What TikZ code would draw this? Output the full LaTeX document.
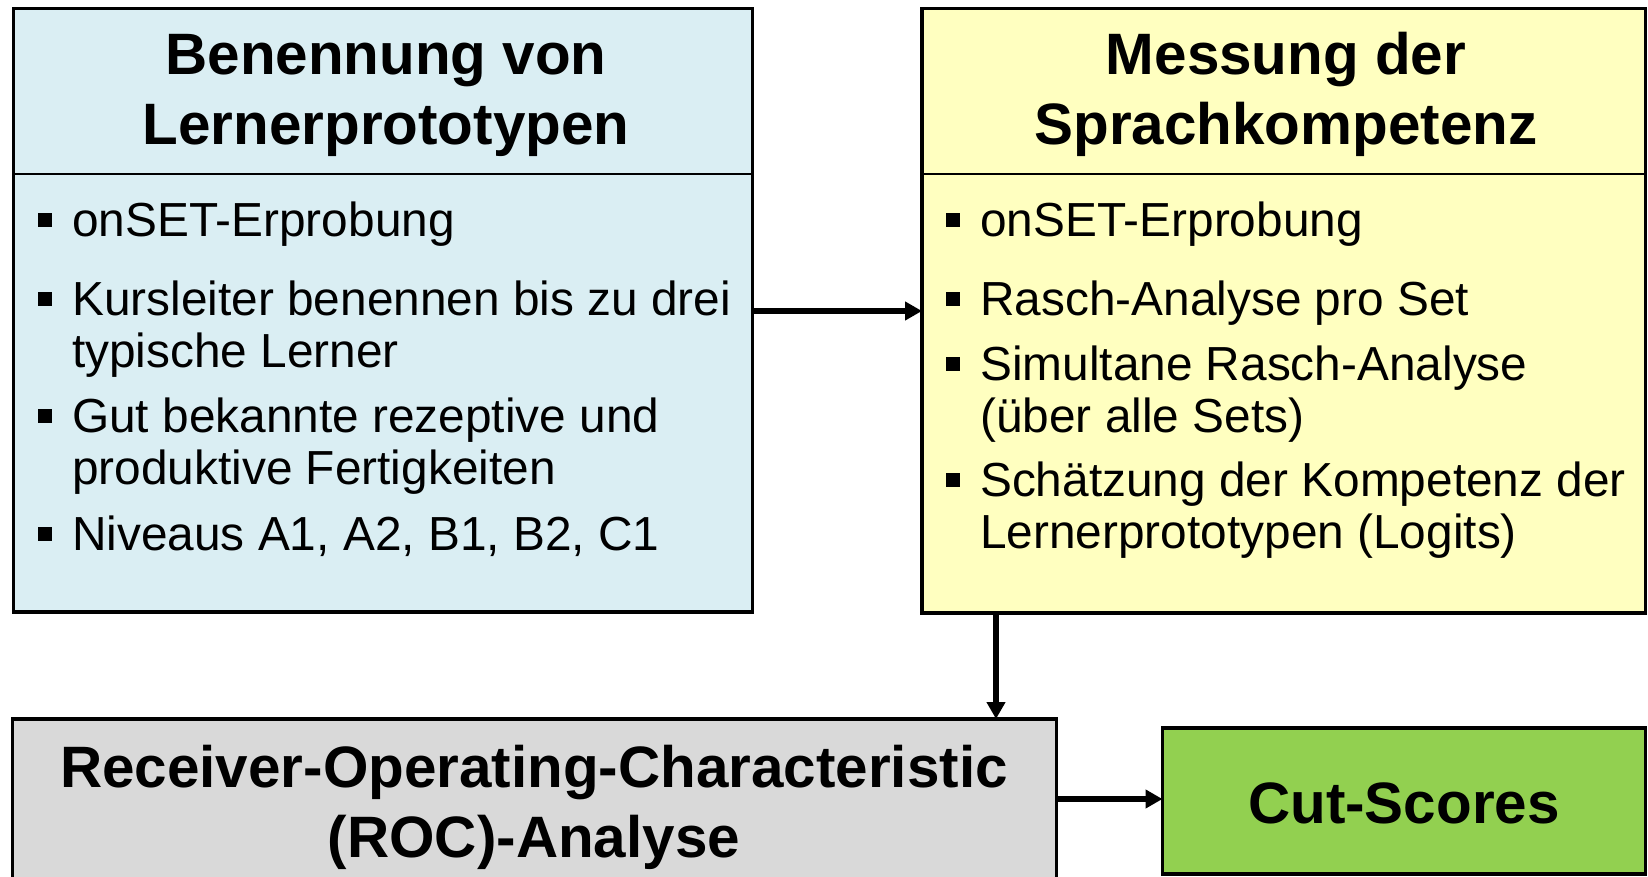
\documentclass[tikz,border=0pt]{standalone}
\usepackage{fontspec}
\setmainfont{Liberation Sans}
\usetikzlibrary{arrows.meta}
\definecolor{boxblue}{HTML}{DAEEF3}
\definecolor{boxyellow}{HTML}{FFFFC0}
\definecolor{boxgray}{HTML}{D9D9D9}
\definecolor{boxgreen}{HTML}{92D050}
\tikzset{
  panel/.style={draw=black, line width=3.5pt, inner sep=0pt, outer sep=0pt},
  divider/.style={draw=black, line width=2pt},
  titletext/.style={font=\fontsize{58.4}{70}\selectfont\bfseries, align=center, inner sep=0pt, anchor=base},
  itemtext/.style={font=\fontsize{47.8}{52}\selectfont, align=left, inner sep=0pt, anchor=base west},
  bul/.style={fill=black, draw=none, minimum size=14pt, inner sep=0pt},
  arr/.style={draw=black, line width=6pt, -{Triangle[length=17pt,width=18pt]}},
}
\begin{document}
\begin{tikzpicture}[x=1pt,y=-1pt]
\useasboundingbox (0,0) rectangle (1648,877);
\clip (0,0) rectangle (1648,877);
\fill[white] (0,0) rectangle (1648,877);

% boxes
\node[panel, fill=boxblue, minimum width=739pt, minimum height=603.5pt] (lb) at (383,310.25) {};
\node[panel, fill=boxyellow, minimum width=723.5pt, minimum height=604.5pt] (yel) at (1283.75,310.75) {};
\node[panel, fill=boxgray, minimum width=1044pt, minimum height=186pt] (roc) at (534.5,812) {};
\node[panel, fill=boxgreen, minimum width=483pt, minimum height=146pt] (cut) at (1404,801) {};

% header dividers
\coordinate (hd) at (0,174);
\draw[divider] (lb.west |- hd) -- (lb.east |- hd);
\draw[divider] (yel.west |- hd) -- (yel.east |- hd);

% titles (base anchor = baseline of the last line)
\node[titletext] (t1) at (386,145) {Benennung von\\Lernerprototypen};
\node[titletext] (t2) at (1286,145) {Messung der\\Sprachkompetenz};
\node[titletext] (t3) at (534,857) {Receiver-Operating-Characteristic\\(ROC)-Analyse};
\node[titletext] (t4) at (1404,823) {Cut-Scores};

% left items
\node[bul] (lb1) at (44.5,220.5) {};
\node[itemtext] (li1) at (72,237) {onSET-Erprobung};
\node[bul] (lb2) at (44.5,298.5) {};
\node[itemtext] (li2) at (72,367) {Kursleiter benennen bis zu drei\\typische Lerner};
\node[bul] (lb3) at (44.5,415.5) {};
\node[itemtext] (li3) at (72,484) {Gut bekannte rezeptive und\\produktive Fertigkeiten};
\node[bul] (lb4) at (44.5,533.5) {};
\node[itemtext] (li4) at (72,550) {Niveaus A1, A2, B1, B2, C1};

% right items
\node[bul] (rb1) at (953,220.5) {};
\node[itemtext] (ri1) at (980,237) {onSET-Erprobung};
\node[bul] (rb2) at (953,298.5) {};
\node[itemtext] (ri2) at (980,315) {Rasch-Analyse pro Set};
\node[bul] (rb3) at (953,363.5) {};
\node[itemtext] (ri3) at (980,432) {Simultane Rasch-Analyse\\(über alle Sets)};
\node[bul] (rb4) at (953,479.5) {};
\node[itemtext] (ri4) at (980,548) {Schätzung der Kompetenz der\\Lernerprototypen (Logits)};

% connectors
\coordinate (ay1) at (0,311);
\coordinate (ax) at (996,0);
\coordinate (ay2) at (0,799);
\draw[arr] (lb.east |- ay1) -- (yel.west |- ay1);
\draw[arr] (yel.south -| ax) -- (roc.north -| ax);
\draw[arr] (roc.east |- ay2) -- (cut.west |- ay2);
\end{tikzpicture}
\end{document}
